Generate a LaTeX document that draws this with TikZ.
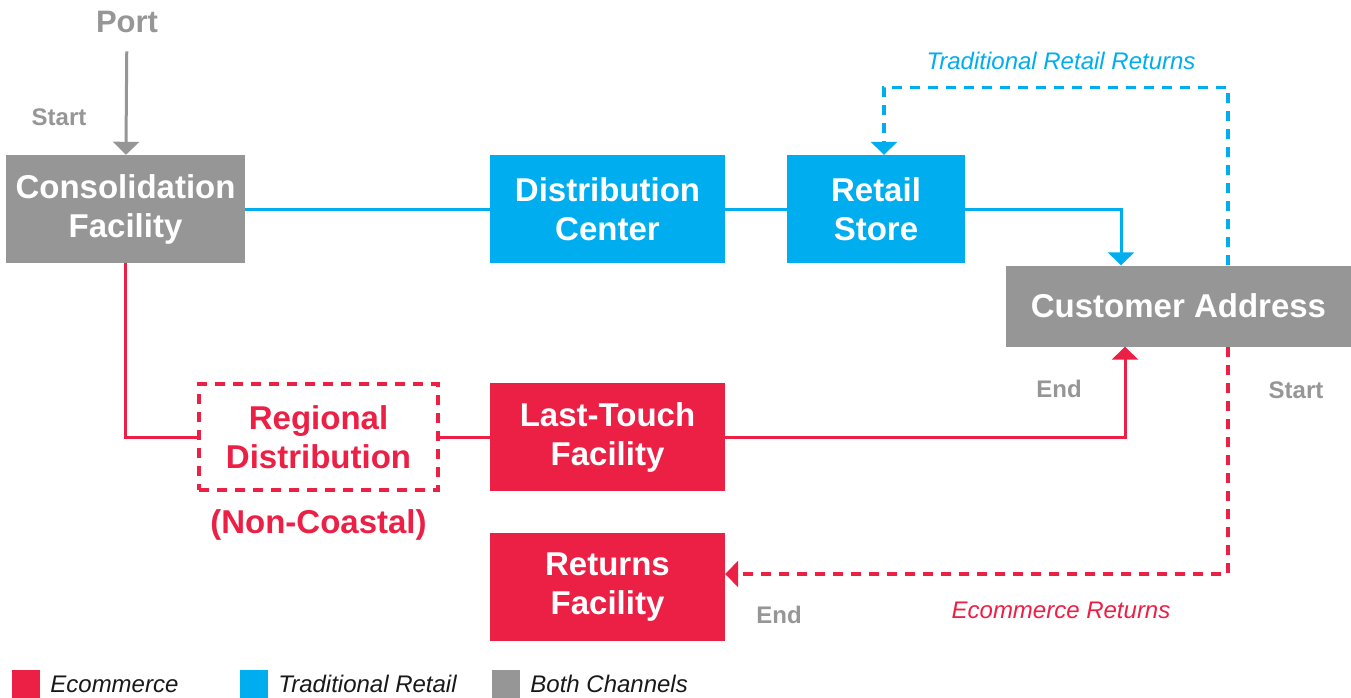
\documentclass[tikz,border=0pt]{standalone}
\usepackage{fontspec}
\setmainfont{Liberation Sans}
\usetikzlibrary{arrows.meta,positioning}

\definecolor{ecomred}{HTML}{EC1F45}
\definecolor{retailblue}{HTML}{00AEEF}
\definecolor{bothgray}{HTML}{969696}

\begin{document}
\begin{tikzpicture}[
    x=1pt, y=-1pt,
    boxfont/.style={font=\fontsize{33}{39}\selectfont\bfseries},
    facility/.style={boxfont, align=center, text=white, inner sep=0pt,
                     minimum height=108pt},
    ecombox/.style={facility, fill=ecomred},
    retailbox/.style={facility, fill=retailblue},
    bothbox/.style={facility, fill=bothgray},
    tag/.style={font=\fontsize{24}{28}\selectfont\bfseries, text=bothgray},
    flowlbl/.style={font=\fontsize{24}{28}\selectfont\itshape},
    ecomline/.style={draw=ecomred, line width=3pt},
    retailline/.style={draw=retailblue, line width=3pt},
    bothline/.style={draw=bothgray, line width=3pt},
    headed/.style={-{Triangle[length=13pt,width=26pt]}},
    returnline/.style={dash pattern=on 10pt off 8pt, line width=3.5pt},
    legsq/.style={minimum size=28pt, inner sep=0pt},
    legtext/.style={font=\fontsize{24}{28}\selectfont\itshape, text=black!90,
                    inner sep=0pt},
]
\useasboundingbox (0,0) rectangle (1351,698);

% --- Facilities ---
\node[bothbox, minimum width=239pt]   (consol)    at (125.5,209) {Consolidation\\Facility};
\node[retailbox, minimum width=235pt] (distc)     at (607.5,209) {Distribution\\Center};
\node[retailbox, minimum width=178pt] (retail)    at (876,209)   {Retail\\Store};
\node[bothbox, minimum width=345pt, minimum height=81pt]
                                      (cust)      at (1178.5,306) {Customer Address};
\node[boxfont, align=center, text=ecomred, draw=ecomred, returnline, line width=4pt,
      minimum width=239pt, minimum height=106pt, inner sep=0pt]
                                      (regional)  at (318.5,437) {Regional\\Distribution};
\node[boxfont, text=ecomred, below=14pt of regional] (noncoast) {(Non-Coastal)};
\node[ecombox, minimum width=235pt]   (lasttouch) at (607.5,437) {Last-Touch\\Facility};
\node[ecombox, minimum width=235pt]   (retfac)    at (607.5,587) {Returns\\Facility};

% --- Inbound from the port ---
\node[font=\fontsize{31}{36}\selectfont\bfseries, text=bothgray] (port) at (127,22) {Port};
\draw[bothline, headed, shorten <=15pt] (port) -- (consol);
\node[tag] (startport) at (59,117) {Start};

% --- Traditional retail path ---
\draw[retailline] (consol) -- (distc);
\draw[retailline] (distc) -- (retail);
\draw[retailline, headed] (retail.east) -| ([xshift=-57.5pt]cust.north);
\draw[retailline, returnline, headed] ([xshift=49.5pt]cust.north) -- ++(0,-178)
      -| ([xshift=8pt]retail.north);
\node[flowlbl, text=retailblue] (retlbl) at (1061,61) {Traditional Retail Returns};

% --- Ecommerce path ---
\draw[ecomline] (consol.south) |- (regional.west);
\draw[ecomline] (regional) -- (lasttouch);
\draw[ecomline, headed] (lasttouch.east) -| ([xshift=-53.5pt]cust.south);
\draw[ecomline, returnline, headed] ([xshift=49.5pt]cust.south) |- ([yshift=13pt]retfac.east);
\node[flowlbl, text=ecomred] (ecomlbl) at (1061,610) {Ecommerce Returns};

\node[tag] (endcust)   at (1059,389) {End};
\node[tag] (startcust) at (1296,390) {Start};
\node[tag] (endret)    at (779,615)  {End};

% --- Legend ---
\node[legsq, fill=ecomred]    (legecom)   at (26,684)  {};
\node[legtext, right=10pt of legecom]   (legecomtxt)   {Ecommerce};
\node[legsq, fill=retailblue] (legretail) at (254,684) {};
\node[legtext, right=10pt of legretail] (legretailtxt) {Traditional Retail};
\node[legsq, fill=bothgray]   (legboth)   at (506,684) {};
\node[legtext, right=10pt of legboth]   (legbothtxt)   {Both Channels};

\end{tikzpicture}
\end{document}
